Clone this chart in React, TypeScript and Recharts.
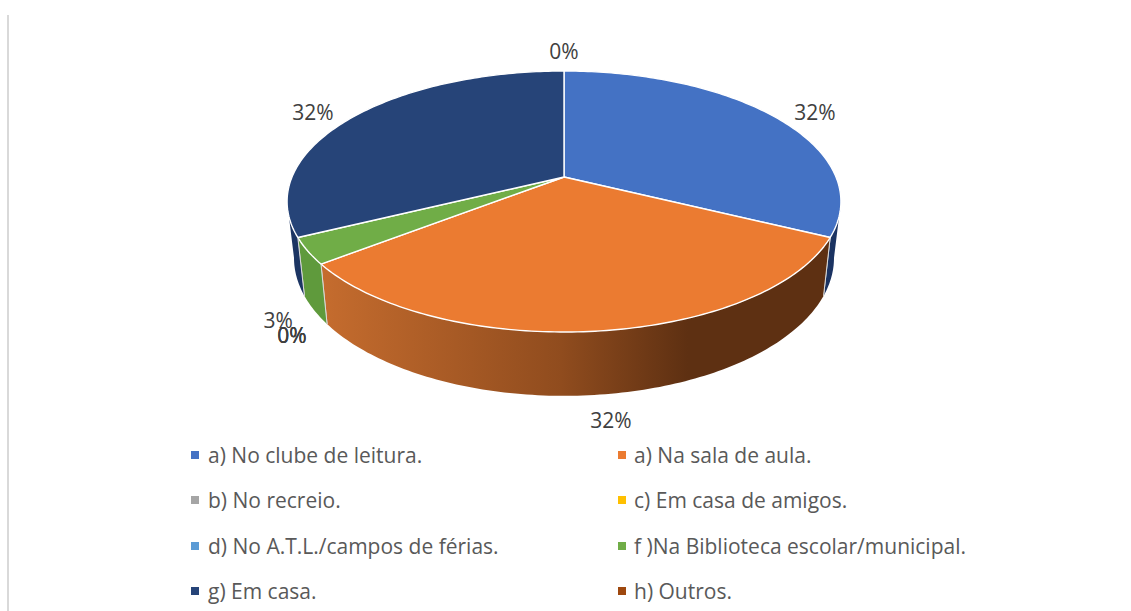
import React from "react";
import { PieChart, Pie, Legend } from "recharts";

const categories = [
  "a) No clube de leitura.",
  "a) Na sala de aula.",
  "b) No recreio.",
  "c) Em casa de amigos.",
  "d) No A.T.L./campos de férias.",
  "f )Na Biblioteca escolar/municipal.",
  "g) Em casa.",
  "h) Outros.",
];
const values = [10, 10, 0, 0, 0, 1, 10, 0];
const colors = ["#4472C4", "#EB7B31", "#A5A5A5", "#FFC000", "#5B9BD5", "#70AD47", "#264478", "#9E480E"];
const wallFills = ["#1B3362", "url(#orangeWall)", "#62803c", "#62803c", "#62803c", "#5F9A3C", "#1C3563", "#5E3012"];

const data = categories.map((name, i) => ({ name, value: values[i], fill: colors[i] }));

// 3D projection parameters
const K = 0.1877;
const Y_SCALE = 0.4629;
const BOTTOM_X = 0.975;
const BOTTOM_Y = 1.057;
const DEPTH = 55;
const WALL_FROM = 100.8;
const WALL_TO = 259.2;
const NUDGE: [number, number][] = [
  [41, -4], [13, 89], [-29, 71], [-29, 71], [-29, 71], [-29.5, 69], [-41, -4], [0, -20],
];

function top(cx: number, cy: number, r: number, theta: number) {
  const t = (theta * Math.PI) / 180;
  const u = Math.sin(t);
  const v = Math.cos(t);
  const w = 1 + K * v;
  return { x: cx + (r * u) / w, y: cy - (r * Y_SCALE * v) / w };
}
function bottom(cx: number, cy: number, r: number, theta: number) {
  const p = top(cx, cy, r, theta);
  return { x: cx + (p.x - cx) * BOTTOM_X, y: cy + (p.y - cy) * BOTTOM_Y + DEPTH };
}
function samples(a: number, b: number) {
  const out: number[] = [];
  const n = Math.max(1, Math.ceil(Math.abs(b - a)));
  for (let i = 0; i <= n; i++) out.push(a + ((b - a) * i) / n);
  return out;
}
const pts = (list: { x: number; y: number }[]) =>
  list.map((p) => `${p.x.toFixed(2)},${p.y.toFixed(2)}`).join(" ");

function Slice3D(props: any) {
  const { cx, cy, outerRadius: r, startAngle, endAngle, fill, index } = props;
  const a = 90 - startAngle;
  const b = 90 - endAngle;
  if (Math.abs(b - a) < 0.01) return <g />;
  const wa = Math.max(a, WALL_FROM);
  const wb = Math.min(b, WALL_TO);
  const hasWall = wb > wa;
  const rim = samples(a, b).map((t) => top(cx, cy, r, t));
  const wallTop = hasWall ? samples(wa, wb).map((t) => top(cx, cy, r, t)) : [];
  const wallBot = hasWall ? samples(wa, wb).map((t) => bottom(cx, cy, r, t)).reverse() : [];
  const seam = (t: number) => {
    const p = top(cx, cy, r, t);
    const q = bottom(cx, cy, r, t);
    return <line x1={p.x} y1={p.y} x2={q.x} y2={q.y} stroke="#D9D9D9" strokeWidth={1} />;
  };
  return (
    <g>
      <defs>
        <linearGradient id="orangeWall" gradientUnits="userSpaceOnUse" x1={322} y1={0} x2={830} y2={0}>
          <stop offset="0" stopColor="#C56C2E" />
          <stop offset="0.47" stopColor="#904C1E" />
          <stop offset="0.72" stopColor="#5E3012" />
          <stop offset="1" stopColor="#5E3012" />
        </linearGradient>
      </defs>
      {hasWall && <polygon points={pts([...wallTop, ...wallBot])} fill={wallFills[index]} />}
      {hasWall && a >= WALL_FROM && seam(a)}
      {hasWall && b <= WALL_TO && seam(b)}
      <polygon
        points={pts([{ x: cx, y: cy }, ...rim])}
        fill={fill}
        stroke="#FFFFFF"
        strokeWidth={1.4}
        strokeLinejoin="round"
      />
    </g>
  );
}

function renderLabel(props: any) {
  const { cx, cy, outerRadius: r, midAngle, index, percent } = props;
  const p = top(cx, cy, r, 90 - midAngle);
  const [dx, dy] = NUDGE[index];
  return (
    <text
      key={index}
      x={p.x + dx}
      y={p.y + dy}
      textAnchor="middle"
      dominantBaseline="central"
      fontFamily="'Open Sans', sans-serif"
      fontSize={21}
      fill="#404040"
    >
      {`${Math.round(percent * 100)}%`}
    </text>
  );
}

const colLeft = [191, 618];
const rowTop = [447, 492, 538, 583];

function LegendBox({ payload }: any) {
  return (
    <div style={{ position: "relative", width: 1131, height: 611 }}>
      {(payload || []).map((entry: any, i: number) => {
        const col = i % 2;
        const row = Math.floor(i / 2);
        return (
          <div
            key={entry.value}
            style={{
              position: "absolute",
              left: colLeft[col],
              top: rowTop[row],
              height: 16,
              display: "flex",
              alignItems: "center",
              whiteSpace: "nowrap",
              fontFamily: "'Open Sans', sans-serif",
              fontSize: 21,
              color: "#595959",
            }}
          >
            <span style={{ width: 8, height: 8, background: entry.color, marginRight: col === 0 ? 9 : 8, flex: "none" }} />
            <span>{entry.value}</span>
          </div>
        );
      })}
    </div>
  );
}

export default function App() {
  return (
    <div style={{ position: "absolute", left: 0, top: 0, width: 1131, height: 611, background: "#fff", overflow: "hidden" }}>
      <div style={{ position: "absolute", left: 7, top: 15, width: 2, height: 596, background: "#D9D9D9" }} />
      <PieChart width={1131} height={611} margin={{ top: 0, right: 0, bottom: 0, left: 0 }}>
        <Pie
          data={data}
          dataKey="value"
          nameKey="name"
          cx={564}
          cy={177}
          innerRadius={0}
          outerRadius={272}
          startAngle={90}
          endAngle={-270}
          stroke="none"
          isAnimationActive={false}
          labelLine={false}
          label={renderLabel}
          shape={Slice3D}
        />
        <Legend
          content={<LegendBox />}
          itemSorter={null}
          wrapperStyle={{ position: "absolute", left: 0, top: 0, width: 1131, height: 611, bottom: "auto" }}
        />
      </PieChart>
    </div>
  );
}
